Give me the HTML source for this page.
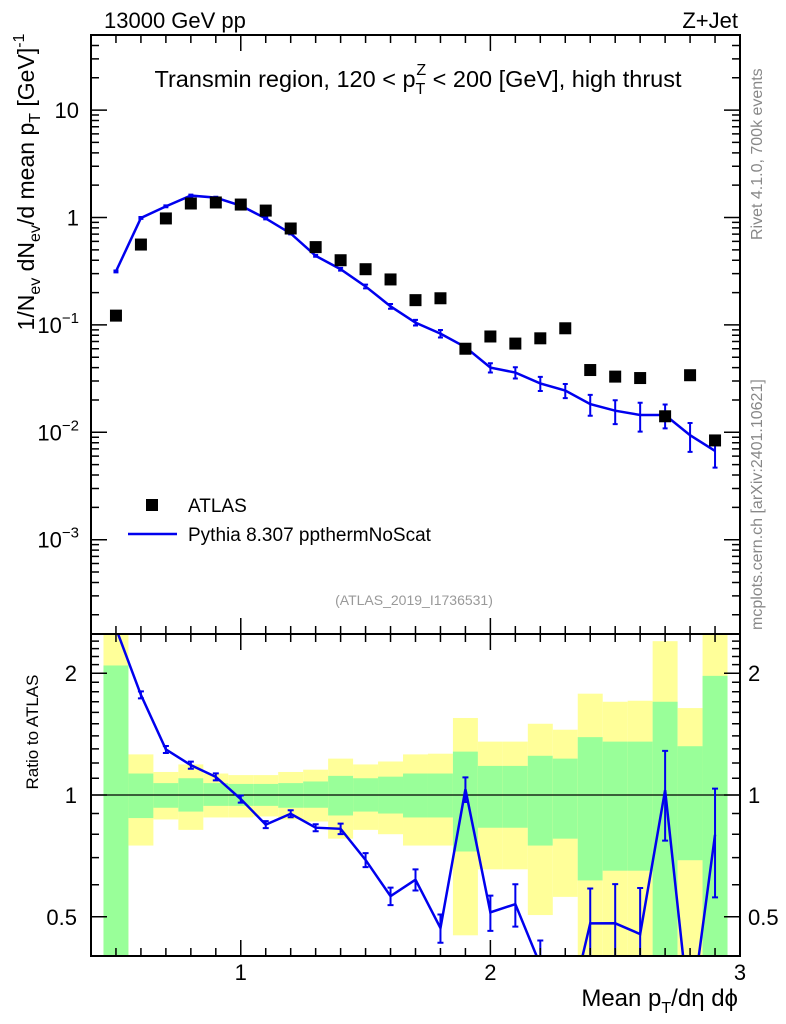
<!DOCTYPE html>
<html><head><meta charset="utf-8">
<style>
html,body{margin:0;padding:0;background:#fff;overflow:hidden;width:786px;height:1024px;}
svg{display:block;font-family:"Liberation Sans",Arial,sans-serif;}
</style></head>
<body>
<svg id="chart" width="786" height="1024" viewBox="0 0 786 1024" xmlns="http://www.w3.org/2000/svg">
<g id="bands"></g>
<g id="marks"></g>
<g id="axes"></g>
<text x="104" y="28" font-size="22">13000 GeV pp</text>
<text x="738" y="28" font-size="22" text-anchor="end">Z+Jet</text>
<text x="418" y="87" font-size="23.5" text-anchor="middle">Transmin region, 120 &lt; p<tspan font-size="16" dy="7">T</tspan><tspan font-size="16" dx="-9" dy="-19">Z</tspan><tspan dy="12"> &lt; 200 [GeV], high thrust</tspan></text>
<text x="414" y="605" font-size="14" fill="#999" text-anchor="middle">(ATLAS_2019_I1736531)</text>
<text transform="translate(762,240) rotate(-90)" font-size="16" fill="#888">Rivet 4.1.0,  700k events</text>
<text transform="translate(762,630) rotate(-90)" font-size="16" fill="#888">mcplots.cern.ch [arXiv:2401.10621]</text>
<text transform="translate(34,182) rotate(-90)" font-size="23" text-anchor="middle">1/N<tspan font-size="16" dy="6">ev</tspan><tspan dy="-6"> dN</tspan><tspan font-size="16" dy="6">ev</tspan><tspan dy="-6">/d mean p</tspan><tspan font-size="16" dy="6">T</tspan><tspan dy="-6"> [GeV]</tspan><tspan font-size="16" dy="-10">-1</tspan></text>
<text transform="translate(38,732) rotate(-90)" font-size="17" text-anchor="middle">Ratio to ATLAS</text>
<text x="738" y="1006" font-size="24" text-anchor="end">Mean p<tspan font-size="16" dy="7">T</tspan><tspan dy="-7">/dη dϕ</tspan></text>
<g>
<rect x="146" y="499" width="12" height="12" fill="#000"/>
<text x="188" y="512" font-size="19">ATLAS</text>
<line x1="128" y1="534" x2="177" y2="534" stroke="#0000ee" stroke-width="2.5"/>
<text x="188" y="541" font-size="19">Pythia 8.307 ppthermNoScat</text>
</g>
</svg>
<script>
const xCenters=[0.5,0.6,0.7,0.8,0.9,1.0,1.1,1.2,1.3,1.4,1.5,1.6,1.7,1.8,1.9,2.0,2.1,2.2,2.3,2.4,2.5,2.6,2.7,2.8,2.9];
const atlasValues=[0.122,0.56,0.98,1.35,1.38,1.32,1.16,0.79,0.53,0.40,0.33,0.265,0.17,0.177,0.060,0.078,0.067,0.075,0.093,0.038,0.033,0.032,0.0141,0.034,0.0084];
const mcValues=[0.315,0.99,1.27,1.6,1.53,1.29,0.98,0.71,0.44,0.33,0.228,0.149,0.105,0.083,0.062,0.040,0.036,0.0285,0.0245,0.0183,0.0159,0.0145,0.0145,0.0094,0.0067];
const mcRelErr=[0.02,0.02,0.02,0.02,0.02,0.02,0.02,0.02,0.02,0.03,0.04,0.05,0.06,0.08,0.07,0.1,0.12,0.15,0.15,0.22,0.25,0.3,0.25,0.3,0.3];
const yellowHi=[3,1.26,1.14,1.19,1.13,1.12,1.12,1.14,1.155,1.23,1.19,1.21,1.26,1.265,1.55,1.355,1.355,1.50,1.45,1.78,1.70,1.71,2.40,1.64,3];
const greenHi=[2.09,1.13,1.07,1.10,1.07,1.065,1.065,1.07,1.08,1.115,1.10,1.11,1.13,1.13,1.28,1.18,1.18,1.25,1.23,1.39,1.355,1.355,1.70,1.32,1.97];
const greenLo=[0.3,0.877,0.93,0.91,0.94,0.94,0.94,0.93,0.93,0.89,0.91,0.90,0.88,0.88,0.725,0.83,0.83,0.75,0.78,0.615,0.65,0.65,0.3,0.69,0.3];
const yellowLo=[0.3,0.75,0.87,0.82,0.88,0.88,0.885,0.87,0.86,0.78,0.82,0.80,0.75,0.75,0.45,0.655,0.655,0.505,0.56,0.3,0.3,0.3,0.3,0.3,0.3];
const mainTicks=[10,1,0.1,0.01,0.001];
const mainTickLabels=["10","1","10<tspan font-size='15' dy='-10'>−1</tspan>","10<tspan font-size='15' dy='-10'>−2</tspan>","10<tspan font-size='15' dy='-10'>−3</tspan>"];
const ratioTicks=[0.5,1,2];
const ratioTickLabels=["0.5","1","2"];
const xTicks=[1,2,3];

const NS="http://www.w3.org/2000/svg";
const L=91,R=740,T=35,MB=634,RB=956;
const binW=0.1;
function X(v){return L+(v-0.4)/(3.0-0.4)*(R-L);}
function Ym(v){return 217.5-Math.log10(v)*107.4;}
const rMin=0.4,rMax=2.5;
function Yr(v){return RB-(Math.log10(v)-Math.log10(rMin))/(Math.log10(rMax)-Math.log10(rMin))*(RB-MB);}
function clampR(v){return Math.max(MB,Math.min(RB,Yr(Math.max(v,1e-6))));}
function mk(tag,attrs,parent){const e=document.createElementNS(NS,tag);for(const k in attrs)e.setAttribute(k,attrs[k]);parent.appendChild(e);return e;}
const bands=document.getElementById('bands'),marks=document.getElementById('marks'),axes=document.getElementById('axes');

xCenters.forEach((c,i)=>{
  const x0=X(c-binW/2),x1=X(c+binW/2);
  const y1=clampR(yellowHi[i]),y2=clampR(yellowLo[i]);
  const yb=mk('rect',{x:x0,y:y1,width:x1-x0,height:y2-y1,fill:'#ffff99'},bands);
  
  
  const g1=clampR(greenHi[i]),g2=clampR(greenLo[i]);
  const gb=mk('rect',{x:x0,y:g1,width:x1-x0,height:g2-g1,fill:'#99ff99'},bands);
  
  
});
const ol=mk('line',{x1:L,x2:R,y1:Yr(1),y2:Yr(1),stroke:'#000','stroke-width':1.2},marks);



const clipM=mk('clipPath',{id:'cm'},marks);mk('rect',{x:L,y:T,width:R-L,height:MB-T},clipM);
const clipR=mk('clipPath',{id:'cr'},marks);mk('rect',{x:L,y:MB,width:R-L,height:RB-MB},clipR);
const mpts=xCenters.map((c,i)=>X(c)+','+Ym(mcValues[i])).join(' ');
const ml=mk('polyline',{points:mpts,fill:'none',stroke:'#0000ee','stroke-width':2.5,'clip-path':'url(#cm)'},marks);


xCenters.forEach((c,i)=>{
  const x=X(c),v=mcValues[i],e=v*mcRelErr[i];
  const a=Ym(v+e),b=Ym(v-e);
  const eb=mk('path',{d:`M${x},${a}V${b}M${x-2.5},${a}H${x+2.5}M${x-2.5},${b}H${x+2.5}`,stroke:'#0000ee','stroke-width':2,fill:'none'},marks);
  
  
});
xCenters.forEach((c,i)=>{
  const r=mk('rect',{x:X(c)-6,y:Ym(atlasValues[i])-6,width:12,height:12,fill:'#000'},marks);
  
  
});
const ratios=xCenters.map((c,i)=>mcValues[i]/atlasValues[i]);
const rpts=xCenters.map((c,i)=>X(c)+','+Yr(ratios[i])).join(' ');
const rl=mk('polyline',{points:rpts,fill:'none',stroke:'#0000ee','stroke-width':2.5,'clip-path':'url(#cr)'},marks);


xCenters.forEach((c,i)=>{
  const x=X(c),v=ratios[i],e=v*mcRelErr[i];
  const a=Yr(v+e),b=Yr(v-e);
  const eb=mk('path',{d:`M${x},${a}V${b}M${x-3},${a}H${x+3}M${x-3},${b}H${x+3}`,stroke:'#0000ee','stroke-width':2,fill:'none','clip-path':'url(#cr)'},marks);
  
  
});

const f1=mk('rect',{x:L,y:T,width:R-L,height:MB-T,fill:'none',stroke:'#000','stroke-width':2},axes);


const f2=mk('rect',{x:L,y:MB,width:R-L,height:RB-MB,fill:'none',stroke:'#000','stroke-width':2},axes);


let tp='';
for(let v=0.5;v<=2.95;v+=0.1){const x=X(v);const major=Math.abs(v-Math.round(v))<1e-6;const len=major?16:8;
  tp+=`M${x},${T}v${len}M${x},${MB}v${-len}M${x},${MB}v${len}M${x},${RB}v${-len}`;}
for(let d=-4;d<=1;d++){for(let m=1;m<10;m++){const v=m*Math.pow(10,d);const y=Ym(v);if(y<T||y>MB)continue;const len=m===1?16:8;tp+=`M${L},${y}h${len}M${R},${y}h${-len}`;}}
[0.4,0.5,0.6,0.7,0.8,0.9,1,1.1,1.2,1.3,1.4,1.5,1.6,1.7,1.8,1.9,2,2.1,2.2,2.3,2.4,2.5].forEach(v=>{const y=Yr(v);const len=(v===0.5||v===1||v===2)?16:8;tp+=`M${L},${y}h${len}M${R},${y}h${-len}`;});
const tk=mk('path',{d:tp,stroke:'#000','stroke-width':1.5,fill:'none'},axes);


xTicks.forEach(v=>{
  const t=mk('text',{x:X(v),y:RB+24,'font-size':22,'text-anchor':'middle'},axes);t.textContent=v;
  
  
});
mainTicks.forEach((v,i)=>{
  const t=mk('text',{x:L-12,y:Ym(v)+8,'font-size':22,'text-anchor':'end'},axes);t.innerHTML=mainTickLabels[i];
  
  
});
ratioTicks.forEach((v,i)=>{
  const t=mk('text',{x:L-14,y:Yr(v)+8,'font-size':22,'text-anchor':'end'},axes);t.textContent=ratioTickLabels[i];
  
  
  const t2=mk('text',{x:R+8,y:Yr(v)+8,'font-size':22},axes);t2.textContent=ratioTickLabels[i];
  
  
});
</script>
</body></html>
